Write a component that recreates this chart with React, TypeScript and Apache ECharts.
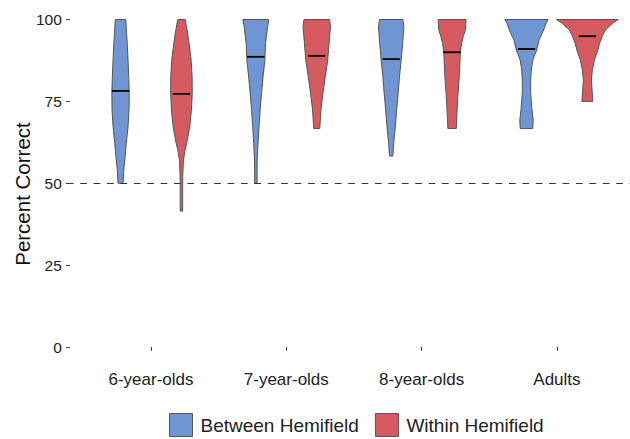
import React, { useEffect, useRef } from "react";
import * as echarts from "echarts";

const categories = ["6-year-olds", "7-year-olds", "8-year-olds", "Adults"];
const seriesNames = ["Between Hemifield", "Within Hemifield"];
const yTicks = [0, 25, 50, 75, 100];
const chanceLevel = 50;

// Violin profiles: percent-correct levels and kernel density (relative half-width)
const between6Y = [50.0, 54.0, 57.1, 62.2, 67.3, 72.4, 77.5, 82.5, 87.6, 92.7, 97.8, 100];
const between6D = [2.5, 3.2, 4.3, 5.8, 7.5, 8.5, 8.7, 8.2, 7.5, 6.7, 5.7, 5.2];
const within6Y = [41.5, 46.9, 52.0, 57.1, 60.2, 62.2, 67.3, 72.4, 77.5, 82.5, 87.6, 92.7, 97.0, 100];
const within6D = [1.2, 1.2, 1.3, 2.0, 3.7, 5.3, 8.3, 10.0, 10.8, 10.7, 9.7, 7.7, 5.5, 3.7];

const between7Y = [50.0, 57.1, 62.2, 67.3, 72.4, 77.5, 82.5, 87.6, 92.7, 97.8, 100];
const between7D = [1.2, 1.3, 2.2, 3.2, 4.3, 5.7, 7.2, 9.0, 9.7, 11.7, 13.0];
const within7Y = [66.7, 72.4, 77.5, 82.5, 87.6, 92.7, 97.8, 100];
const within7D = [3.0, 4.2, 6.2, 8.5, 11.0, 12.3, 13.7, 12.8];

const between8Y = [58.3, 62.2, 67.3, 72.4, 77.5, 82.5, 87.6, 92.7, 97.8, 100];
const between8D = [1.7, 2.5, 4.2, 5.5, 7.0, 8.3, 10.0, 11.5, 12.7, 11.7];
const within8Y = [66.7, 72.4, 77.5, 82.5, 90.0, 92.7, 94.8, 96.8, 100];
const within8D = [4.2, 5.0, 6.0, 7.2, 8.3, 9.5, 11.2, 13.3, 14.0];

const betweenAY = [66.7, 69.3, 72.4, 77.5, 81.5, 84.6, 87.6, 91.0, 93.7, 96.8, 98.8, 100];
const betweenAD = [6.3, 6.7, 5.5, 4.2, 4.2, 4.8, 6.3, 10.5, 12.5, 17.2, 19.5, 21.7];
const withinAY = [75.0, 78.5, 81.5, 84.6, 87.6, 90.7, 92.7, 95.0, 96.8, 98.8, 100];
const withinAD = [5.5, 4.7, 4.0, 5.0, 7.0, 10.5, 12.2, 15.0, 18.0, 25.0, 30.8];

const betweenMedians = [78.2, 88.6, 87.9, 91.0];
const withinMedians = [77.3, 88.9, 90.0, 94.9];

const betweenProfiles = [
  { y: between6Y, d: between6D },
  { y: between7Y, d: between7D },
  { y: between8Y, d: between8D },
  { y: betweenAY, d: betweenAD },
];
const withinProfiles = [
  { y: within6Y, d: within6D },
  { y: within7Y, d: within7D },
  { y: within8Y, d: within8D },
  { y: withinAY, d: withinAD },
];

const BLUE = "#6f95d2";
const RED = "#d65b60";
const BORDER = "#555555";
const FONT = "Liberation Sans";
const DENSITY_TO_UNITS = 1 / 135.3;
const DODGE = 0.225;
const MEDIAN_HALF = 0.064;

function makeRender(profiles: { y: number[]; d: number[] }[], offset: number, color: string) {
  return (params: any, api: any) => {
    const i = params.dataIndex;
    const cx = api.value(0) + offset;
    const med = api.value(1);
    const p = profiles[i];
    const right = p.y.map((y, k) => api.coord([cx + p.d[k] * DENSITY_TO_UNITS, y]));
    const left = p.y.map((y, k) => api.coord([cx - p.d[k] * DENSITY_TO_UNITS, y])).reverse();
    const pts = right.concat(left);
    const a = api.coord([cx - MEDIAN_HALF, med]);
    const b = api.coord([cx + MEDIAN_HALF, med]);
    return {
      type: "group",
      children: [
        {
          type: "polygon",
          shape: { points: pts },
          style: { fill: color, stroke: BORDER, lineWidth: 1 },
        },
        {
          type: "line",
          shape: { x1: a[0], y1: a[1], x2: b[0], y2: b[1] },
          style: { stroke: "#000000", lineWidth: 1.8 },
        },
      ],
    };
  };
}

export default function App() {
  const ref = useRef<HTMLDivElement>(null);
  useEffect(() => {
    document.body.style.margin = "0";
    if (!ref.current) return;
    const chart = echarts.init(ref.current, undefined, { renderer: "svg" });
    const xVals = categories.map((_, i) => i + 1);
    chart.setOption({
      animation: false,
      backgroundColor: "#ffffff",
      textStyle: { fontFamily: FONT },
      grid: { left: 69.8, right: 0, top: 19.5, bottom: 92 },
      legend: {
        data: seriesNames,
        left: 169,
        top: 413,
        padding: 0,
        icon: "rect",
        itemWidth: 23,
        itemHeight: 23,
        itemGap: 16,
        itemStyle: { borderColor: BORDER, borderWidth: 1 },
        textStyle: { fontSize: 19, color: "#222222", fontFamily: FONT, padding: [0, 0, 0, 3] },
      },
      xAxis: {
        type: "value",
        min: 0.4,
        max: 4.54,
        offset: 17,
        axisLine: { show: false },
        splitLine: { show: false },
        axisTick: {
          show: true,
          length: 3.7,
          customValues: xVals,
          lineStyle: { color: "#333333", width: 1 },
        },
        axisLabel: {
          customValues: xVals,
          margin: 7,
          fontSize: 17,
          color: "#222222",
          fontFamily: FONT,
          formatter: (v: number) => categories[Math.round(v) - 1] ?? "",
        },
      },
      yAxis: {
        type: "value",
        min: yTicks[0],
        max: yTicks[yTicks.length - 1],
        interval: 25,
        axisLine: { show: false },
        splitLine: { show: false },
        axisTick: { show: true, length: 3.7, lineStyle: { color: "#333333", width: 1 } },
        axisLabel: { margin: 8, fontSize: 15.5, color: "#222222", fontFamily: FONT },
      },
      graphic: [
        {
          type: "text",
          x: 22,
          y: 194,
          rotation: Math.PI / 2,
          style: {
            text: "Percent Correct",
            fontSize: 20.5,
            fontFamily: FONT,
            fill: "#111111",
            textAlign: "center",
            textVerticalAlign: "middle",
          },
        },
      ],
      series: [
        {
          type: "custom",
          name: "chance",
          z: 1,
          data: [],
          renderItem: () => null,
          markLine: {
            silent: true,
            symbol: "none",
            label: { show: false },
            lineStyle: { color: "#333333", width: 1, type: [6.7, 6.7], dashOffset: 3.2 },
            data: [{ yAxis: chanceLevel }],
          },
        },
        {
          type: "custom",
          name: seriesNames[0],
          z: 2,
          itemStyle: { color: BLUE, borderColor: BORDER, borderWidth: 1 },
          data: betweenMedians.map((m, i) => [i + 1, m]),
          renderItem: makeRender(betweenProfiles, -DODGE, BLUE),
        },
        {
          type: "custom",
          name: seriesNames[1],
          z: 2,
          itemStyle: { color: RED, borderColor: BORDER, borderWidth: 1 },
          data: withinMedians.map((m, i) => [i + 1, m]),
          renderItem: makeRender(withinProfiles, DODGE, RED),
        },
      ],
    });
    return () => chart.dispose();
  }, []);
  return <div ref={ref} style={{ width: 630, height: 439 }} />;
}
